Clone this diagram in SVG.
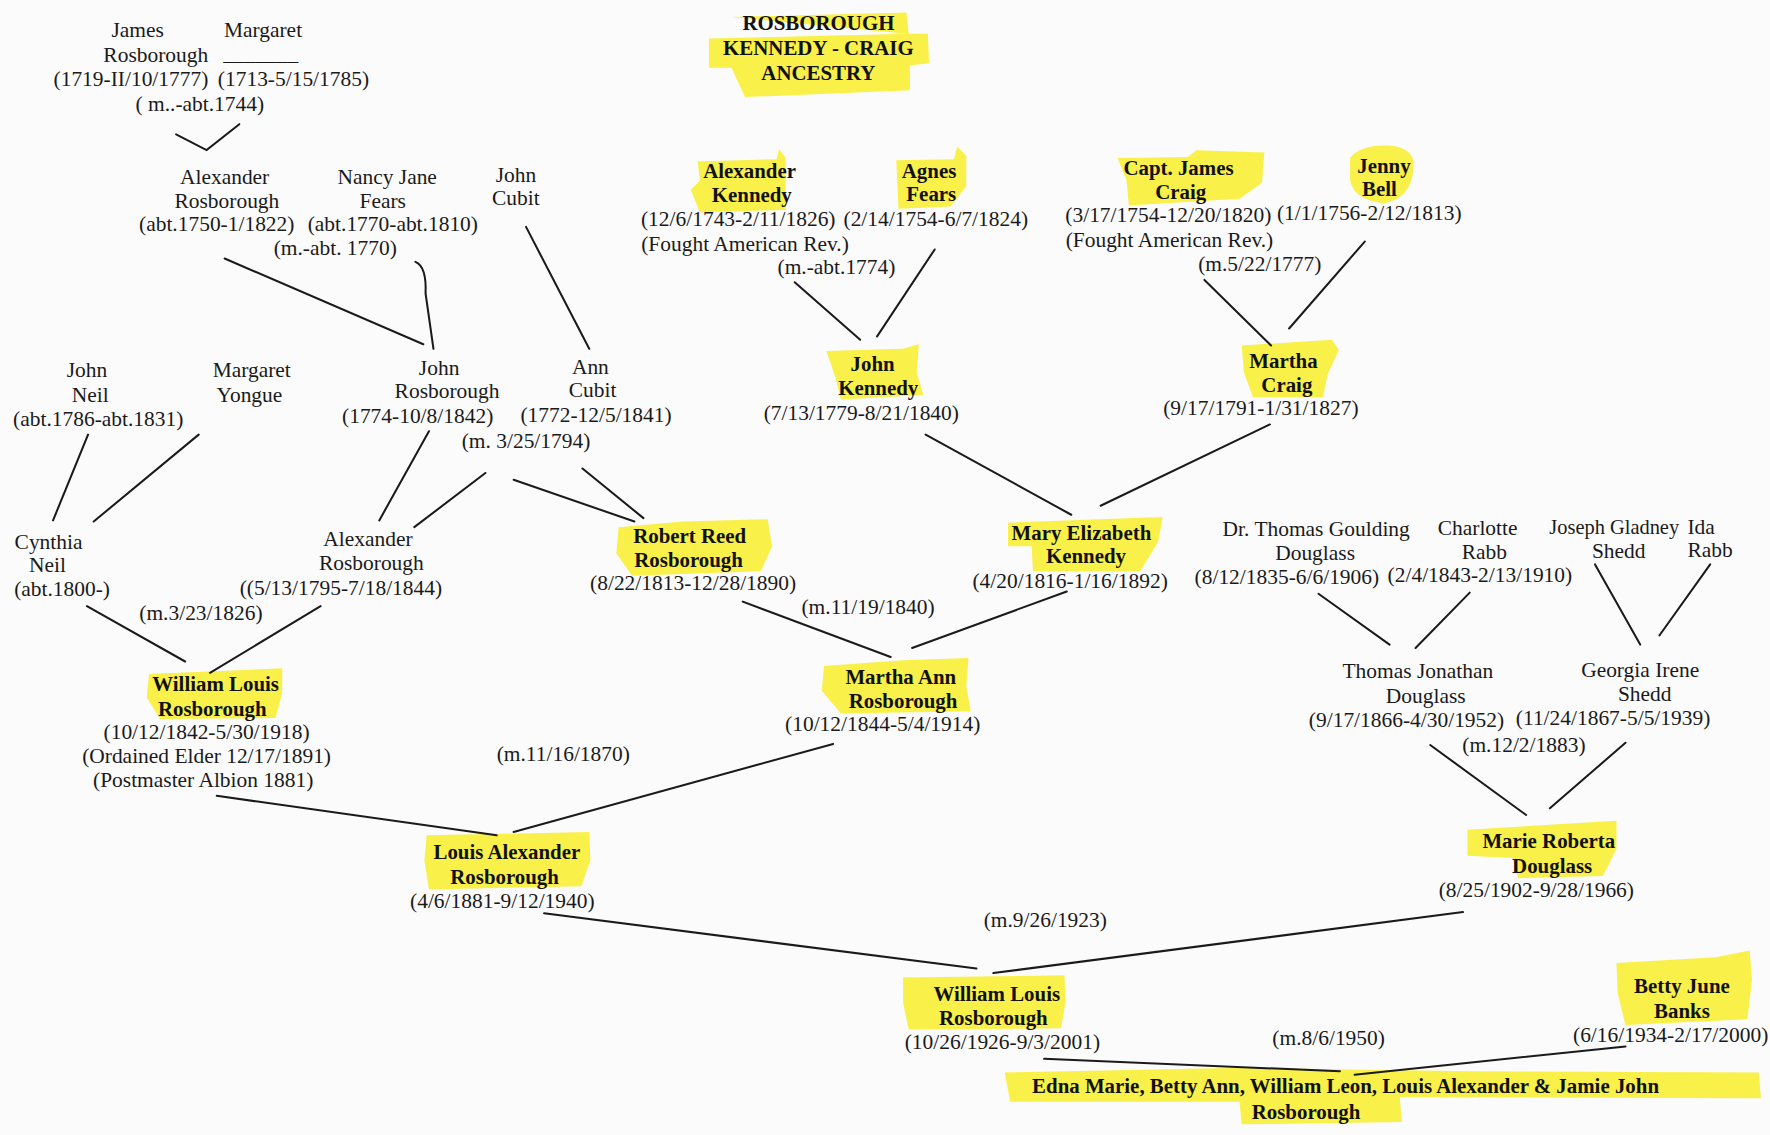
<svg xmlns="http://www.w3.org/2000/svg" width="1770" height="1135" viewBox="0 0 1770 1135">
<style>
.t{font-family:"Liberation Serif","Times New Roman",serif;font-size:19px;fill:#1a1a1a;text-anchor:middle}
.b{font-family:"Liberation Serif","Times New Roman",serif;font-size:18.5px;font-weight:bold;fill:#111;text-anchor:middle}
.hl{fill:#f8ef3a;opacity:0.92}
.c line,.c path{stroke:#1a1a1a;stroke-width:1.8;fill:none;stroke-linecap:round}
</style>
<rect width="1770" height="1135" fill="#fbfbfb"/>
<g transform="scale(1.12883)">
<g id="highlights">
<polygon class="hl" points="648,15 803,11 805,30 628,34 628,60 648,60 660,86 806,80 806,58 823,56 822,30 803,30"/>
<polygon class="hl" points="618,143 688,141 690,132 696,140 696,186 620,188 612,168 620,160"/>
<polygon class="hl" points="794,142 845,141 848,130 856,138 856,165 842,183 796,185"/>
<polygon class="hl" points="990,140 1052,139 1060,133 1120,135 1118,162 1098,176 1000,182 998,160"/>
<path class="hl" d="M1196,140 Q1205,128 1230,129 Q1255,131 1252,150 Q1250,176 1226,180 Q1200,178 1196,160 Z"/>
<polygon class="hl" points="732,311 800,309 814,305 812,330 818,350 745,354 740,334"/>
<polygon class="hl" points="1100,306 1180,301 1186,310 1176,332 1172,352 1110,352 1102,330"/>
<polygon class="hl" points="548,467 605,462 680,460 684,484 674,506 560,510 546,490"/>
<polygon class="hl" points="893,463 1030,458 1026,480 1010,506 915,506 914,484 893,484"/>
<polygon class="hl" points="730,590 800,585 858,583 856,608 860,630 745,632 728,612"/>
<polygon class="hl" points="132,597 250,592 250,614 244,636 142,637 130,618"/>
<polygon class="hl" points="378,740 522,737 523,762 515,785 380,788 376,762"/>
<polygon class="hl" points="1300,735 1432,727 1432,752 1420,776 1345,778 1340,760 1300,758"/>
<polygon class="hl" points="800,866 943,864 944,887 940,911 805,912 800,888"/>
<polygon class="hl" points="1432,853 1520,848 1550,842 1552,868 1548,903 1440,908 1433,880"/>
<polygon class="hl" points="890,950 1100,946 1300,949 1558,950 1560,973 1240,972 1242,994 1100,996 1098,976 895,976"/>
</g>
<g id="title">
<text class="b" x="725" y="27">ROSBOROUGH</text>
<text class="b" x="725" y="49">KENNEDY - CRAIG</text>
<text class="b" x="725" y="71">ANCESTRY</text>
</g>
<g class="c" id="connectors">
<path d="M156,119 L183,133 L212,110"/>
<line x1="199" y1="229" x2="375" y2="305"/>
<path d="M368,232 Q378,236 377,260 L384,309"/>
<line x1="466" y1="201" x2="522" y2="309"/>
<line x1="78" y1="385" x2="47" y2="461"/>
<line x1="176" y1="385" x2="83" y2="462"/>
<line x1="380" y1="382" x2="336" y2="461"/>
<line x1="430" y1="419" x2="367" y2="467"/>
<line x1="455" y1="425" x2="562" y2="462"/>
<line x1="516" y1="415" x2="570" y2="459"/>
<line x1="704" y1="250" x2="762" y2="301"/>
<line x1="828" y1="221" x2="777" y2="298"/>
<line x1="1067" y1="248" x2="1126" y2="306"/>
<line x1="1209" y1="214" x2="1142" y2="291"/>
<line x1="820" y1="385" x2="949" y2="456"/>
<line x1="1125" y1="376" x2="975" y2="448"/>
<line x1="658" y1="533" x2="789" y2="582"/>
<line x1="945" y1="524" x2="808" y2="574"/>
<line x1="77" y1="537" x2="164" y2="586"/>
<line x1="284" y1="537" x2="186" y2="596"/>
<line x1="192" y1="705" x2="440" y2="740"/>
<line x1="738" y1="659" x2="455" y2="737"/>
<line x1="1168" y1="526" x2="1231" y2="571"/>
<line x1="1302" y1="525" x2="1254" y2="574"/>
<line x1="1413" y1="500" x2="1453" y2="571"/>
<line x1="1515" y1="500" x2="1470" y2="563"/>
<line x1="1267" y1="660" x2="1352" y2="722"/>
<line x1="1440" y1="658" x2="1373" y2="716"/>
<line x1="482" y1="809" x2="865" y2="858"/>
<line x1="1296" y1="808" x2="880" y2="862"/>
<line x1="925" y1="938" x2="1187" y2="949"/>
<line x1="1440" y1="927" x2="1200" y2="952"/>
</g>
<g id="n_james_rosborough">
<text class="t" x="122" y="33">James</text>
<text class="t" x="138" y="55">Rosborough</text>
<text class="t" x="116" y="76">(1719-II/10/1777)</text>
</g>
<g id="n_margaret">
<text class="t" x="233" y="33">Margaret</text>
<text class="t" x="231" y="53">_______</text>
<text class="t" x="260" y="76">(1713-5/15/1785)</text>
</g>
<text class="t" x="177" y="98">( m..-abt.1744)</text>
<g id="n_alexander_rosborough_1">
<text class="t" x="199" y="163">Alexander</text>
<text class="t" x="201" y="184">Rosborough</text>
<text class="t" x="192" y="205">(abt.1750-1/1822)</text>
</g>
<g id="n_nancy_fears">
<text class="t" x="343" y="163">Nancy Jane</text>
<text class="t" x="339" y="184">Fears</text>
<text class="t" x="348" y="205">(abt.1770-abt.1810)</text>
</g>
<text class="t" x="297" y="226">(m.-abt. 1770)</text>
<g id="n_john_cubit">
<text class="t" x="457" y="161">John</text>
<text class="t" x="457" y="182">Cubit</text>
</g>
<g id="n_john_neil">
<text class="t" x="77" y="334">John</text>
<text class="t" x="80" y="356">Neil</text>
<text class="t" x="87" y="377">(abt.1786-abt.1831)</text>
</g>
<g id="n_margaret_yongue">
<text class="t" x="223" y="334">Margaret</text>
<text class="t" x="221" y="356">Yongue</text>
</g>
<g id="n_john_rosborough">
<text class="t" x="389" y="332">John</text>
<text class="t" x="396" y="353">Rosborough</text>
<text class="t" x="370" y="375">(1774-10/8/1842)</text>
</g>
<g id="n_ann_cubit">
<text class="t" x="523" y="331">Ann</text>
<text class="t" x="525" y="352">Cubit</text>
<text class="t" x="528" y="374">(1772-12/5/1841)</text>
</g>
<text class="t" x="466" y="397">(m. 3/25/1794)</text>
<g id="n_cynthia_neil">
<text class="t" x="43" y="486">Cynthia</text>
<text class="t" x="42" y="507">Neil</text>
<text class="t" x="55" y="528">(abt.1800-)</text>
</g>
<g id="n_alexander_rosborough_2">
<text class="t" x="326" y="484">Alexander</text>
<text class="t" x="329" y="505">Rosborough</text>
<text class="t" x="302" y="527">((5/13/1795-7/18/1844)</text>
</g>
<text class="t" x="178" y="549">(m.3/23/1826)</text>
<g id="n_robert_reed_rosborough">
<text class="b" x="611" y="481">Robert Reed</text>
<text class="b" x="610" y="502">Rosborough</text>
<text class="t" x="614" y="523">(8/22/1813-12/28/1890)</text>
</g>
<g id="n_alexander_kennedy">
<text class="b" x="664" y="158">Alexander</text>
<text class="b" x="666" y="179">Kennedy</text>
<text class="t" x="654" y="200">(12/6/1743-2/11/1826)</text>
<text class="t" x="660" y="222">(Fought American Rev.)</text>
</g>
<g id="n_agnes_fears">
<text class="b" x="823" y="158">Agnes</text>
<text class="b" x="825" y="178">Fears</text>
<text class="t" x="829" y="200">(2/14/1754-6/7/1824)</text>
</g>
<text class="t" x="741" y="243">(m.-abt.1774)</text>
<g id="n_john_kennedy">
<text class="b" x="773" y="329">John</text>
<text class="b" x="778" y="350">Kennedy</text>
<text class="t" x="763" y="372">(7/13/1779-8/21/1840)</text>
</g>
<g id="n_james_craig">
<text class="b" x="1044" y="155">Capt. James</text>
<text class="b" x="1046" y="176">Craig</text>
<text class="t" x="1035" y="197">(3/17/1754-12/20/1820)</text>
<text class="t" x="1036" y="219">(Fought American Rev.)</text>
</g>
<g id="n_jenny_bell">
<text class="b" x="1226" y="153">Jenny</text>
<text class="b" x="1222" y="174">Bell</text>
<text class="t" x="1213" y="195">(1/1/1756-2/12/1813)</text>
</g>
<text class="t" x="1116" y="240">(m.5/22/1777)</text>
<g id="n_martha_craig">
<text class="b" x="1137" y="326">Martha</text>
<text class="b" x="1140" y="347">Craig</text>
<text class="t" x="1117" y="368">(9/17/1791-1/31/1827)</text>
</g>
<g id="n_mary_elizabeth_kennedy">
<text class="b" x="958" y="478">Mary Elizabeth</text>
<text class="b" x="962" y="499">Kennedy</text>
<text class="t" x="948" y="521">(4/20/1816-1/16/1892)</text>
</g>
<text class="t" x="769" y="544">(m.11/19/1840)</text>
<g id="n_martha_ann_rosborough">
<text class="b" x="798" y="606">Martha Ann</text>
<text class="b" x="800" y="627">Rosborough</text>
<text class="t" x="782" y="648">(10/12/1844-5/4/1914)</text>
</g>
<g id="n_william_louis_rosborough_1">
<text class="b" x="191" y="612">William Louis</text>
<text class="b" x="188" y="634">Rosborough</text>
<text class="t" x="183" y="655">(10/12/1842-5/30/1918)</text>
<text class="t" x="183" y="676">(Ordained Elder 12/17/1891)</text>
<text class="t" x="180" y="697">(Postmaster Albion 1881)</text>
</g>
<text class="t" x="499" y="674">(m.11/16/1870)</text>
<g id="n_louis_alexander_rosborough">
<text class="b" x="449" y="761">Louis Alexander</text>
<text class="b" x="447" y="783">Rosborough</text>
<text class="t" x="445" y="804">(4/6/1881-9/12/1940)</text>
</g>
<g id="n_thomas_goulding_douglass">
<text class="t" x="1166" y="475">Dr. Thomas Goulding</text>
<text class="t" x="1165" y="496">Douglass</text>
<text class="t" x="1140" y="517">(8/12/1835-6/6/1906)</text>
</g>
<g id="n_charlotte_rabb">
<text class="t" x="1309" y="474">Charlotte</text>
<text class="t" x="1315" y="495">Rabb</text>
<text class="t" x="1311" y="516">(2/4/1843-2/13/1910)</text>
</g>
<g id="n_joseph_shedd">
<text class="t" x="1430" y="473" textLength="115" lengthAdjust="spacingAndGlyphs">Joseph Gladney</text>
<text class="t" x="1434" y="494">Shedd</text>
</g>
<g id="n_ida_rabb">
<text class="t" x="1507" y="473">Ida</text>
<text class="t" x="1515" y="493">Rabb</text>
</g>
<g id="n_thomas_jonathan_douglass">
<text class="t" x="1256" y="601">Thomas Jonathan</text>
<text class="t" x="1263" y="623">Douglass</text>
<text class="t" x="1246" y="644">(9/17/1866-4/30/1952)</text>
</g>
<g id="n_georgia_shedd">
<text class="t" x="1453" y="600">Georgia Irene</text>
<text class="t" x="1457" y="621">Shedd</text>
<text class="t" x="1429" y="642">(11/24/1867-5/5/1939)</text>
</g>
<text class="t" x="1350" y="666">(m.12/2/1883)</text>
<g id="n_marie_roberta_douglass">
<text class="b" x="1372" y="751">Marie Roberta</text>
<text class="b" x="1375" y="773">Douglass</text>
<text class="t" x="1361" y="795">(8/25/1902-9/28/1966)</text>
</g>
<text class="t" x="926" y="821">(m.9/26/1923)</text>
<g id="n_william_louis_rosborough_2">
<text class="b" x="883" y="887">William Louis</text>
<text class="b" x="880" y="908">Rosborough</text>
<text class="t" x="888" y="929">(10/26/1926-9/3/2001)</text>
</g>
<g id="n_betty_june_banks">
<text class="b" x="1490" y="880">Betty June</text>
<text class="b" x="1490" y="902">Banks</text>
<text class="t" x="1480" y="923">(6/16/1934-2/17/2000)</text>
</g>
<text class="t" x="1177" y="926">(m.8/6/1950)</text>
<g id="n_children">
<text class="b" x="1192" y="968">Edna Marie, Betty Ann, William Leon, Louis Alexander &amp; Jamie John</text>
<text class="b" x="1157" y="991">Rosborough</text>
</g>
</g>
</svg>
